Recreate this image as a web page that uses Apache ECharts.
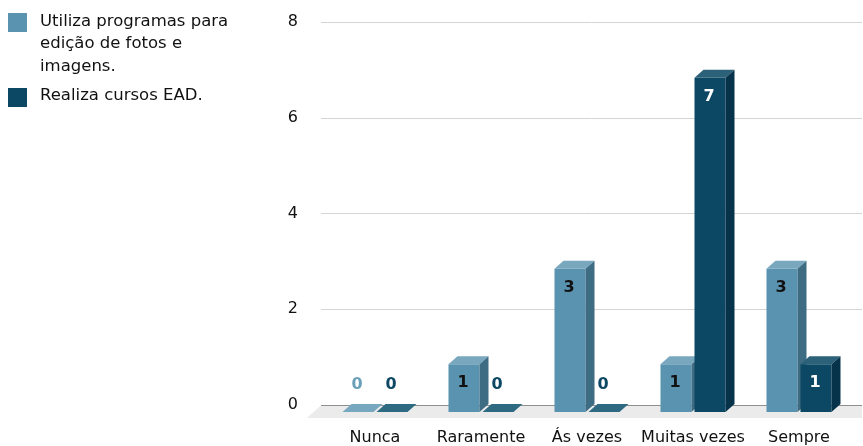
<!DOCTYPE html>
<html><head><meta charset="utf-8">
<script src="https://cdn.jsdelivr.net/npm/echarts@6/dist/echarts.min.js"></script>
<style>html,body{margin:0;padding:0;background:#fff}#c{width:863px;height:446px}</style>
</head><body><div id="c"></div>
<script>
const categories = ['Nunca', 'Raramente', 'Ás vezes', 'Muitas vezes', 'Sempre'];
const seriesNames = ['Utiliza programas para edição de fotos e imagens.', 'Realiza cursos EAD.'];
const legendLines = [['Utiliza programas para', 'edição de fotos e', 'imagens.'], ['Realiza cursos EAD.']];
const programasFotos = [0, 1, 3, 1, 3];
const cursosEAD = [0, 0, 0, 7, 1];
const yMin = 0, yMax = 8, yStep = 2;

const FONT = 'DejaVu Sans';
const palettes = [
  { front: '#5a93b0', top: '#79a7be', side: '#3e6c83', flat: '#78a8bf', lbl: '#111111', zeroLbl: '#6a9fba' },
  { front: '#0c4763', top: '#2c617a', side: '#06324a', flat: '#2e6a82', lbl: '#ffffff', zeroLbl: '#0c4763' }
];
const DX = 9, DY = 8;

function barRender(sIdx) {
  return function (params, api) {
    const ci = api.value(0), v = api.value(1);
    const c = api.coord([ci, v]);
    const base = api.coord([ci, 0]);
    const band = api.size([1, 0])[0];
    const w = band * 0.2925, gap = band * 0.0283;
    const fx = sIdx === 0 ? base[0] - gap / 2 - w : base[0] + gap / 2;
    const yT = c[1], yB = base[1];
    const p = palettes[sIdx];
    const children = [];
    if (v > 0) {
      children.push({ type: 'rect', shape: { x: fx, y: yT, width: w, height: yB - yT }, style: { fill: p.front } });
      children.push({ type: 'polygon', shape: { points: [[fx, yT], [fx + DX, yT - DY], [fx + w + DX, yT - DY], [fx + w, yT]] }, style: { fill: p.top } });
      children.push({ type: 'polygon', shape: { points: [[fx + w, yT], [fx + w + DX, yT - DY], [fx + w + DX, yB - DY], [fx + w, yB]] }, style: { fill: p.side } });
      children.push({ type: 'text', style: { text: String(v), x: fx + w / 2 - 1, y: yT + 19, align: 'center', verticalAlign: 'middle', fill: p.lbl, font: 'bold 16px "' + FONT + '"' } });
    } else {
      children.push({ type: 'polygon', shape: { points: [[fx, yB], [fx + DX, yB - DY], [fx + w + DX, yB - DY], [fx + w, yB]] }, style: { fill: p.flat } });
      children.push({ type: 'text', style: { text: String(v), x: fx + w / 2 - 1, y: yB - 27, align: 'center', verticalAlign: 'middle', fill: p.zeroLbl, font: 'bold 16px "' + FONT + '"' } });
    }
    return { type: 'group', children: children };
  };
}

function floorRender(params, api) {
  const cs = params.coordSys;
  const y0 = cs.y + cs.height, x0 = cs.x, x1 = cs.x + cs.width;
  return { type: 'polygon', shape: { points: [[x0, y0 + 0.5], [x1, y0 + 0.5], [x1, y0 + 13], [x0 - 14, y0 + 13]] }, style: { fill: '#ebebeb' } };
}

const graphics = [];
const ty = [10, 84], ry = [13, 88];
legendLines.forEach((lines, i) => {
  graphics.push({ type: 'rect', left: 8, top: ry[i], shape: { width: 19, height: 19 }, style: { fill: palettes[i].front } });
  graphics.push({ type: 'text', left: 40, top: ty[i], style: { text: lines.join('\n'), font: '16.5px "' + FONT + '"', lineHeight: 22.5, fill: '#111111' } });
});

const chart = echarts.init(document.getElementById('c'), null, { renderer: 'canvas' });
chart.setOption({
  animation: false,
  backgroundColor: '#ffffff',
  textStyle: { fontFamily: FONT },
  graphic: graphics,
  grid: [
    { left: 321, right: 1, top: 22, bottom: 41 },
    { left: 322, right: 11, top: 30, bottom: 33 }
  ],
  xAxis: [
    { gridIndex: 0, type: 'value', min: 0, max: 1, show: false },
    { gridIndex: 1, type: 'category', data: categories, axisLine: { show: false }, axisTick: { show: false }, axisLabel: { interval: 0, margin: 18, fontSize: 16, color: '#111111', fontFamily: FONT }, splitLine: { show: false } }
  ],
  yAxis: [
    { gridIndex: 0, type: 'value', min: yMin, max: yMax, interval: yStep, axisLine: { show: false }, axisTick: { show: false }, axisLabel: { margin: 23, fontSize: 16, color: '#111111', fontFamily: FONT }, splitLine: { lineStyle: { color: ['#333333', '#d4d4d4', '#d4d4d4', '#d4d4d4', '#d4d4d4'], width: 1 } } },
    { gridIndex: 1, type: 'value', min: yMin, max: yMax, interval: yStep, show: false }
  ],
  series: [
    { type: 'custom', name: 'floor', xAxisIndex: 0, yAxisIndex: 0, renderItem: floorRender, data: [[0, 0]], z: 1, silent: true },
    { type: 'custom', name: seriesNames[0], xAxisIndex: 1, yAxisIndex: 1, renderItem: barRender(0), data: programasFotos.map((v, i) => [i, v]), z: 3 },
    { type: 'custom', name: seriesNames[1], xAxisIndex: 1, yAxisIndex: 1, renderItem: barRender(1), data: cursosEAD.map((v, i) => [i, v]), z: 4 }
  ]
});
</script></body></html>
